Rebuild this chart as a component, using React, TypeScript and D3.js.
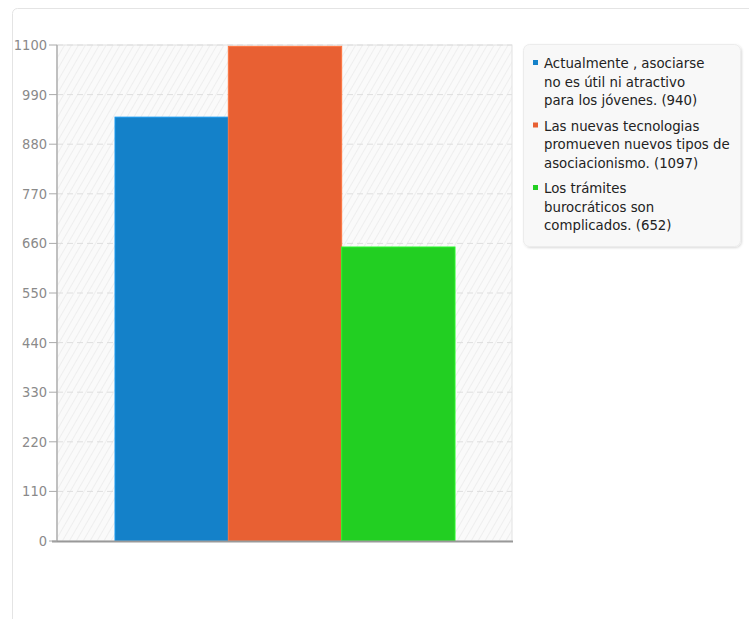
import React from "react";
import * as d3 from "d3";

const categories = [
  "Actualmente , asociarse no es útil ni atractivo para los jóvenes.",
  "Las nuevas tecnologias promueven nuevos tipos de asociacionismo.",
  "Los trámites burocráticos son complicados.",
];
const values = [940, 1097, 652];
const colors = ["#1481c9", "#e86033", "#22cf22"];
const legendLines = [
  ["Actualmente , asociarse", "no es útil ni atractivo", "para los jóvenes. (940)"],
  ["Las nuevas tecnologias", "promueven nuevos tipos de", "asociacionismo. (1097)"],
  ["Los trámites", "burocráticos son", "complicados. (652)"],
];
const yTicks = [0, 110, 220, 330, 440, 550, 660, 770, 880, 990, 1100];

const FONT = "'DejaVu Sans Condensed', 'DejaVu Sans', sans-serif";

export default function App() {
  const W = 749, H = 619;
  const left = 57, right = 512, top = 45, bottom = 541;
  const y = d3.scaleLinear().domain([0, 1100]).range([bottom, top]);
  const x = d3.scaleBand<number>().domain(d3.range(categories.length)).range([115, 455]).padding(0);

  return (
    <svg width={W} height={H} style={{ position: "absolute", left: 0, top: 0, fontFamily: FONT }}>
      <defs>
        <pattern id="hatch" width="6" height="6" patternUnits="userSpaceOnUse" patternTransform="rotate(30)">
          <rect width="6" height="6" fill="#fafafa" />
          <line x1="0" y1="0" x2="0" y2="6" stroke="#eeeeee" strokeWidth="2" />
        </pattern>
        <filter id="sh" x="-5%" y="-5%" width="110%" height="115%">
          <feDropShadow dx="1" dy="1" stdDeviation="1" floodColor="#000" floodOpacity="0.15" />
        </filter>
      </defs>
      <rect x={0} y={0} width={W} height={H} fill="#fff" />
      <rect x={12.5} y={8.5} width={W + 20} height={H + 20} rx={5} fill="#fff" stroke="#e4e4e4" />
      <rect x={left} y={top} width={right - left} height={bottom - top} fill="url(#hatch)" stroke="#e2e2e2" />
      {yTicks.slice(1).map((t) => (
        <line key={"g" + t} x1={left} x2={right} y1={y(t)} y2={y(t)} stroke="#dedede" strokeDasharray="6,4" />
      ))}
      {values.map((v, i) => (
        <rect key={i} x={x(i)!} y={y(v)} width={x.bandwidth()} height={bottom - y(v)} fill={colors[i]}
          stroke={d3.color(colors[i])!.brighter(0.5).toString()} strokeWidth={1} />
      ))}
      <line x1={left} x2={left} y1={top} y2={bottom} stroke="#b0b0b0" strokeWidth={1.5} />
      <line x1={52} x2={right + 1} y1={bottom + 0.5} y2={bottom + 0.5} stroke="#999" strokeWidth={2} />
      {yTicks.map((t) => (
        <g key={t}>
          <line x1={49} x2={left} y1={y(t)} y2={y(t)} stroke="#aaa" />
          <text x={47} y={y(t)} dy="0.35em" textAnchor="end" fontSize={14.5} fill="#8a8a8a">{t}</text>
        </g>
      ))}
      <rect x={523.5} y={44.5} width={217} height={202} rx={6} fill="#f8f8f8" stroke="#ececec" filter="url(#sh)" />
      {legendLines.map((lines, i) => {
        const y0 = 63 + i * 62.5;
        return (
          <g key={i}>
            <rect x={533} y={y0 - 3} width={5} height={5} fill={colors[i]} />
            {lines.map((l, j) => (
              <text key={j} x={544} y={y0 + j * 18.5} dy="0.35em" fontSize={14.8} fill="#222">{l}</text>
            ))}
          </g>
        );
      })}
    </svg>
  );
}
